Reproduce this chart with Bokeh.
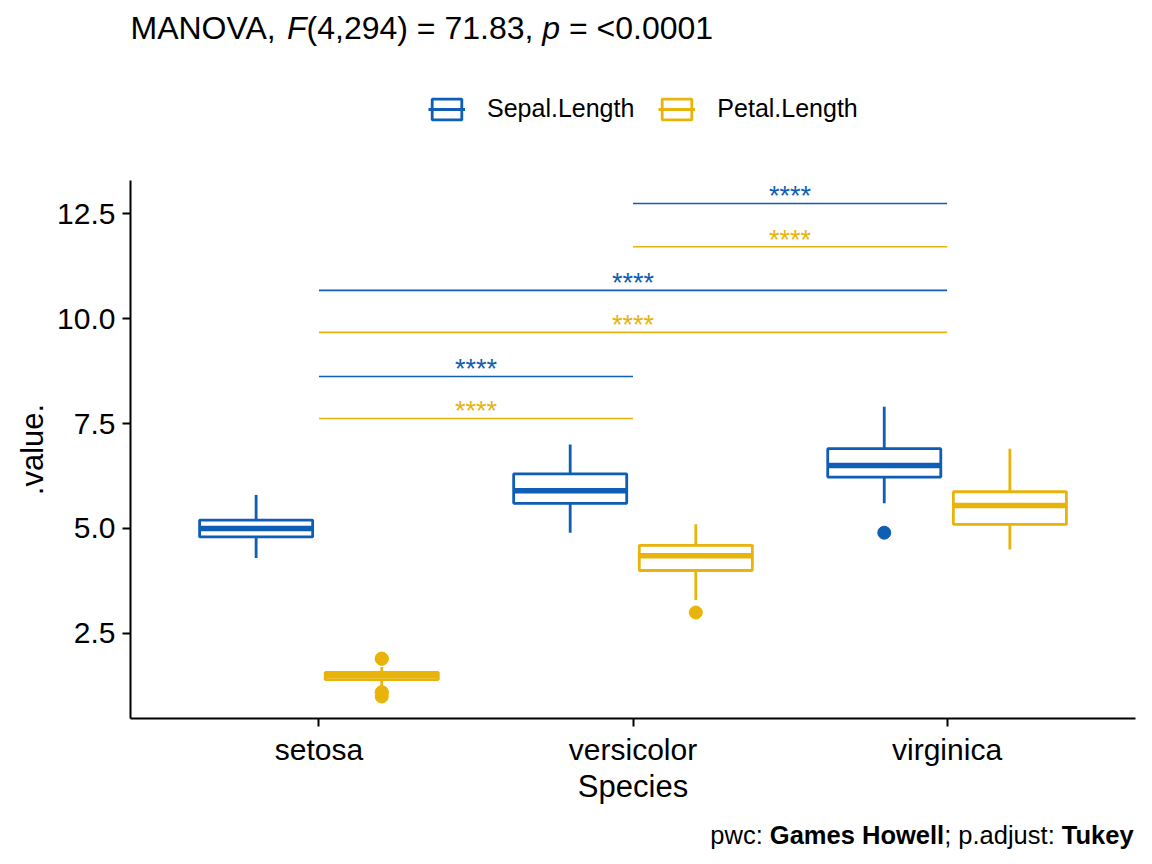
from bokeh.plotting import figure
from bokeh.layouts import column
from bokeh.models import (FactorRange, Range1d, ColumnDataSource, Label, Legend,
                          LegendItem, FixedTicker, NumeralTickFormatter)
from bokeh.transform import dodge
from bokeh.core.properties import value
from bokeh.embed import file_html
from bokeh.resources import INLINE

# ---------------- data ----------------
species = ["setosa", "versicolor", "virginica"]

sepal_lo = [4.3, 4.9, 5.6]
sepal_q1 = [4.8, 5.6, 6.225]
sepal_med = [5.0, 5.9, 6.5]
sepal_q3 = [5.2, 6.3, 6.9]
sepal_hi = [5.8, 7.0, 7.9]
sepal_out_species = ["virginica"]
sepal_out = [4.9]

petal_lo = [1.2, 3.3, 4.5]
petal_q1 = [1.4, 4.0, 5.1]
petal_med = [1.5, 4.35, 5.55]
petal_q3 = [1.575, 4.6, 5.875]
petal_hi = [1.7, 5.1, 6.9]
petal_out_species = ["setosa", "setosa", "setosa", "setosa", "setosa", "versicolor"]
petal_out = [1.0, 1.1, 1.1, 1.9, 1.9, 3.0]

comp_g1 = ["setosa", "setosa", "versicolor"]
comp_g2 = ["versicolor", "virginica", "virginica"]
sepal_bracket_y = [8.62, 10.67, 12.74]
petal_bracket_y = [7.62, 9.67, 11.71]
sig_labels = ["****", "****", "****"]

y_ticks = [2.5, 5.0, 7.5, 10.0, 12.5]
series_names = ["Sepal.Length", "Petal.Length"]

# ---------------- style ----------------
FONT = "Liberation Sans"
BLUE = "#0F5EB6"
GOLD = "#E8B40B"
COLORS = [BLUE, GOLD]
OFFSETS = [-0.2, 0.2]
BOX_W = 0.36
LW = 2.8
MED_LW = 5.5
W = 1152
HEAD_H = 180
FOOT_H = 44
MAIN_H = 864 - HEAD_H - FOOT_H
FRAME_LEFT = 130

p = figure(width=W, height=MAIN_H,
           x_range=FactorRange(*species, range_padding=0.2 / 3, range_padding_units="percent"),
           y_range=Range1d(0.476, 13.286),
           output_backend="svg", toolbar_location=None,
           min_border_left=FRAME_LEFT, min_border_right=17,
           min_border_top=0, min_border_bottom=MAIN_H - 538)
p.xgrid.visible = False
p.ygrid.visible = False
p.outline_line_color = None
p.background_fill_color = "white"
p.border_fill_color = "white"


def draw_series(lo, q1, med, q3, hi, out_sp, out_v, color, off):
    src = ColumnDataSource(dict(species=species, lo=lo, q1=q1, med=med, q3=q3, hi=hi))
    xc = dodge("species", off, range=p.x_range)
    p.segment(x0=xc, x1=xc, y0="q3", y1="hi", source=src, line_color=color, line_width=LW)
    p.segment(x0=xc, x1=xc, y0="lo", y1="q1", source=src, line_color=color, line_width=LW)
    p.vbar(x=xc, width=BOX_W, bottom="q1", top="q3", source=src,
           fill_color="white", line_color=color, line_width=LW)
    p.segment(x0=dodge("species", off - BOX_W / 2, range=p.x_range),
              x1=dodge("species", off + BOX_W / 2, range=p.x_range),
              y0="med", y1="med", source=src, line_color=color, line_width=MED_LW)
    osrc = ColumnDataSource(dict(species=out_sp, v=out_v))
    p.scatter(x=dodge("species", off, range=p.x_range), y="v", source=osrc,
              size=13, fill_color=color, line_color=color)
    return src


sep_src = draw_series(sepal_lo, sepal_q1, sepal_med, sepal_q3, sepal_hi,
                      sepal_out_species, sepal_out, BLUE, OFFSETS[0])
pet_src = draw_series(petal_lo, petal_q1, petal_med, petal_q3, petal_hi,
                      petal_out_species, petal_out, GOLD, OFFSETS[1])


def draw_brackets(ys, color):
    xm = [(species.index(a) + species.index(b)) / 2 + 0.5 for a, b in zip(comp_g1, comp_g2)]
    src = ColumnDataSource(dict(g1=comp_g1, g2=comp_g2, y=ys, xm=xm, lab=sig_labels))
    p.segment(x0="g1", x1="g2", y0="y", y1="y", source=src, line_color=color, line_width=1.6)
    p.text(x="xm", y="y", text="lab", source=src, text_align="center",
           text_baseline="alphabetic", y_offset=-7, text_font=value(FONT),
           text_font_size="27px", text_color=color)


draw_brackets(sepal_bracket_y, BLUE)
draw_brackets(petal_bracket_y, GOLD)

for ax in (p.xaxis[0], p.yaxis[0]):
    ax.axis_line_width = 2
    ax.axis_line_color = "black"
    ax.major_tick_line_width = 2
    ax.major_tick_line_color = "black"
    ax.major_tick_out = 8
    ax.major_tick_in = 0
    ax.minor_tick_line_color = None
    ax.major_label_text_font = FONT
    ax.major_label_text_font_size = "30px"
    ax.major_label_text_color = "black"
    ax.axis_label_text_font = FONT
    ax.axis_label_text_font_size = "31px"
    ax.axis_label_text_font_style = "normal"
    ax.axis_label_text_color = "black"
    ax.major_label_standoff = 7
    ax.axis_label_standoff = 4
p.xaxis.major_label_standoff = 6
p.xaxis.axis_label_standoff = 0

p.xaxis.axis_label = "Species"
p.yaxis.axis_label = ".value."
p.yaxis.ticker = FixedTicker(ticks=y_ticks)
p.yaxis.formatter = NumeralTickFormatter(format="0.0")

# ---------------- header: title + legend ----------------
# Hidden copies of the box glyphs serve only as the legend's keys.
h = figure(width=W, height=HEAD_H, x_range=FactorRange(*species),
           y_range=Range1d(100, 101),
           output_backend="svg", toolbar_location=None, min_border=0,
           x_axis_location=None, y_axis_location=None)
h.xgrid.visible = False
h.ygrid.visible = False
h.outline_line_color = None

items = []
for name, src, color, off in zip(series_names, [sep_src, pet_src], COLORS, OFFSETS):
    r1 = h.vbar(x=dodge("species", off, range=h.x_range), width=BOX_W, bottom="q1",
                top="q3", source=src, fill_color="white", line_color=color, line_width=LW)
    r2 = h.segment(x0=dodge("species", off - BOX_W / 2, range=h.x_range),
                   x1=dodge("species", off + BOX_W / 2, range=h.x_range),
                   y0="med", y1="med", source=src, line_color=color, line_width=LW)
    r1.visible = False
    r2.visible = False
    items.append(LegendItem(label=name, renderers=[r1, r2]))

legend = Legend(items=items, orientation="horizontal", location=(428 - FRAME_LEFT, 57),
                glyph_width=37, glyph_height=26, label_height=26,
                label_standoff=22, spacing=24, padding=0, margin=0,
                border_line_color=None, background_fill_color=None,
                label_text_font=FONT, label_text_font_size="25px",
                label_text_color="black", click_policy="none")
h.add_layout(legend)

TS = 32
title_parts = [("MANOVA,", 0.0, "normal"), ("F", 4.89, "italic"),
               ("(4,294) = 71.83,", 5.501, "normal"), ("p", 12.867, "italic"),
               ("= <0.0001", 13.701, "normal")]
for txt, em, style in title_parts:
    h.add_layout(Label(x=em * TS, y=HEAD_H - 40 + 0.4 * TS, x_units="screen",
                       y_units="screen", text=txt, text_font=FONT,
                       text_font_size=f"{TS}px", text_font_style=style,
                       text_color="black", text_baseline="alphabetic", text_align="left"))

# ---------------- footer: caption ----------------
f = figure(width=W, height=FOOT_H, x_range=Range1d(0, 1), y_range=Range1d(0, 1),
           output_backend="svg", toolbar_location=None, min_border=0,
           x_axis_location=None, y_axis_location=None)
f.xgrid.visible = False
f.ygrid.visible = False
f.outline_line_color = None

CS = 25.5
cap_parts = [("pwc:", 0.0, "normal"), ("Games Howell", 2.334, "bold"),
             ("; p.adjust:", 9.17, "normal"), ("Tukey", 13.784, "bold")]
cap_total = 16.674 * CS
for txt, em, style in cap_parts:
    f.add_layout(Label(x=1135 - FRAME_LEFT - cap_total + em * CS,
                       y=864 - 845 + 0.4 * CS, x_units="screen",
                       y_units="screen", text=txt, text_font=FONT,
                       text_font_size=f"{CS}px", text_font_style=style,
                       text_color="black", text_baseline="alphabetic", text_align="left"))

layout = column(h, p, f, spacing=0)
open("out.html", "w").write(file_html(layout, INLINE))
